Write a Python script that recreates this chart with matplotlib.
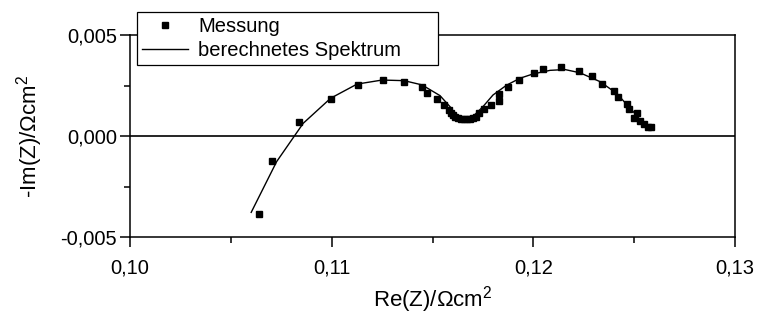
import matplotlib
matplotlib.use("Agg")
import matplotlib.pyplot as plt
from matplotlib.ticker import MultipleLocator, FuncFormatter

plt.rcParams['font.family'] = ['Liberation Sans', 'DejaVu Sans']
plt.rcParams['mathtext.fontset'] = 'custom'
plt.rcParams['mathtext.rm'] = 'Liberation Sans'
plt.rcParams['mathtext.it'] = 'Liberation Sans'

# Messwerte (Nyquist)
re_mess = [0.10638, 0.10706, 0.10839, 0.10995, 0.11129, 0.11253, 0.11360, 0.11448,
           0.11474, 0.11521, 0.11557, 0.11583, 0.11590, 0.11602, 0.11612, 0.11626,
           0.11641, 0.11656, 0.11671, 0.11686, 0.11701, 0.11716, 0.11732, 0.11755,
           0.11789, 0.11831, 0.11831, 0.11873, 0.11927, 0.12005, 0.12046, 0.12136,
           0.12225, 0.12292, 0.12339, 0.12400, 0.12421, 0.12463, 0.12476, 0.12513,
           0.12501, 0.12529, 0.12549, 0.12570, 0.12583]
im_mess = [-0.00385, -0.00124, 0.00069, 0.00185, 0.00254, 0.00276, 0.00269, 0.00244,
           0.00211, 0.00182, 0.00155, 0.00129, 0.00112, 0.00104, 0.00094, 0.00089,
           0.00084, 0.00084, 0.00084, 0.00084, 0.00089, 0.00094, 0.00112, 0.00132,
           0.00153, 0.00175, 0.00208, 0.00241, 0.00277, 0.00313, 0.00332, 0.00342,
           0.00323, 0.00299, 0.00257, 0.00224, 0.00192, 0.00158, 0.00132, 0.00112,
           0.00091, 0.00074, 0.00059, 0.00046, 0.00046]

# berechnetes Spektrum
re_fit = [0.10601, 0.10727, 0.10859, 0.10995, 0.11126, 0.11250, 0.11359, 0.11448,
          0.11537, 0.11587, 0.11612, 0.11651, 0.11701, 0.11750, 0.11800, 0.11868,
          0.11934, 0.11998, 0.12083, 0.12157, 0.12231, 0.12331, 0.12413, 0.12496,
          0.12545, 0.12569]
im_fit = [-0.00378, -0.00127, 0.00063, 0.00187, 0.00257, 0.00277, 0.00274, 0.00253,
          0.00200, 0.00145, 0.00106, 0.00086, 0.00097, 0.00145, 0.00203, 0.00252,
          0.00286, 0.00307, 0.00325, 0.00329, 0.00313, 0.00269, 0.00211, 0.00120,
          0.00063, 0.00045]

fig = plt.figure(figsize=(7.58, 3.24), dpi=100)
ax = fig.add_axes([130 / 758, 1 - 237 / 324, 605 / 758, 202 / 324])

ax.axhline(0, color='black', lw=1.2, zorder=1)
ax.plot(re_mess, im_mess, ls='none', marker='s', ms=4.2, color='black', label='Messung')
ax.plot(re_fit, im_fit, color='black', lw=1.0, label='berechnetes Spektrum')

ax.set_xlim(0.10, 0.13)
ax.set_ylim(-0.005, 0.005)
ax.xaxis.set_major_locator(MultipleLocator(0.01))
ax.xaxis.set_minor_locator(MultipleLocator(0.005))
ax.yaxis.set_major_locator(MultipleLocator(0.005))
ax.yaxis.set_minor_locator(MultipleLocator(0.0025))
ax.xaxis.set_major_formatter(FuncFormatter(lambda v, p: f"{v:.2f}".replace('.', ',')))
ax.yaxis.set_major_formatter(FuncFormatter(lambda v, p: f"{v:.3f}".replace('.', ',').replace('-0,000', '0,000')))

ax.tick_params(which='both', direction='out', width=1.1, labelsize=14.5)
ax.tick_params(which='major', length=7.5)
ax.tick_params(which='minor', length=4)
ax.tick_params(axis='x', which='major', pad=8)
ax.tick_params(axis='y', which='major', pad=2)
for s in ax.spines.values():
    s.set_linewidth(1.1)

ax.set_xlabel('Re(Z)/Ωcm$^2$', fontsize=16, labelpad=5)
ax.set_ylabel('-Im(Z)/Ωcm$^2$', fontsize=16, labelpad=11)

leg = ax.legend(loc='upper left', bbox_to_anchor=(7 / 605, 225 / 202, 301 / 605, 0.0),
                mode='expand', alignment='center', borderaxespad=0, fontsize=14.5,
                frameon=True, fancybox=False, edgecolor='black', framealpha=1,
                numpoints=1, handlelength=2.3, handletextpad=0.5,
                labelspacing=0.25, borderpad=0.25)
leg.get_frame().set_linewidth(0.9)
leg.set_zorder(5)

fig.savefig('out.png', dpi=100)
